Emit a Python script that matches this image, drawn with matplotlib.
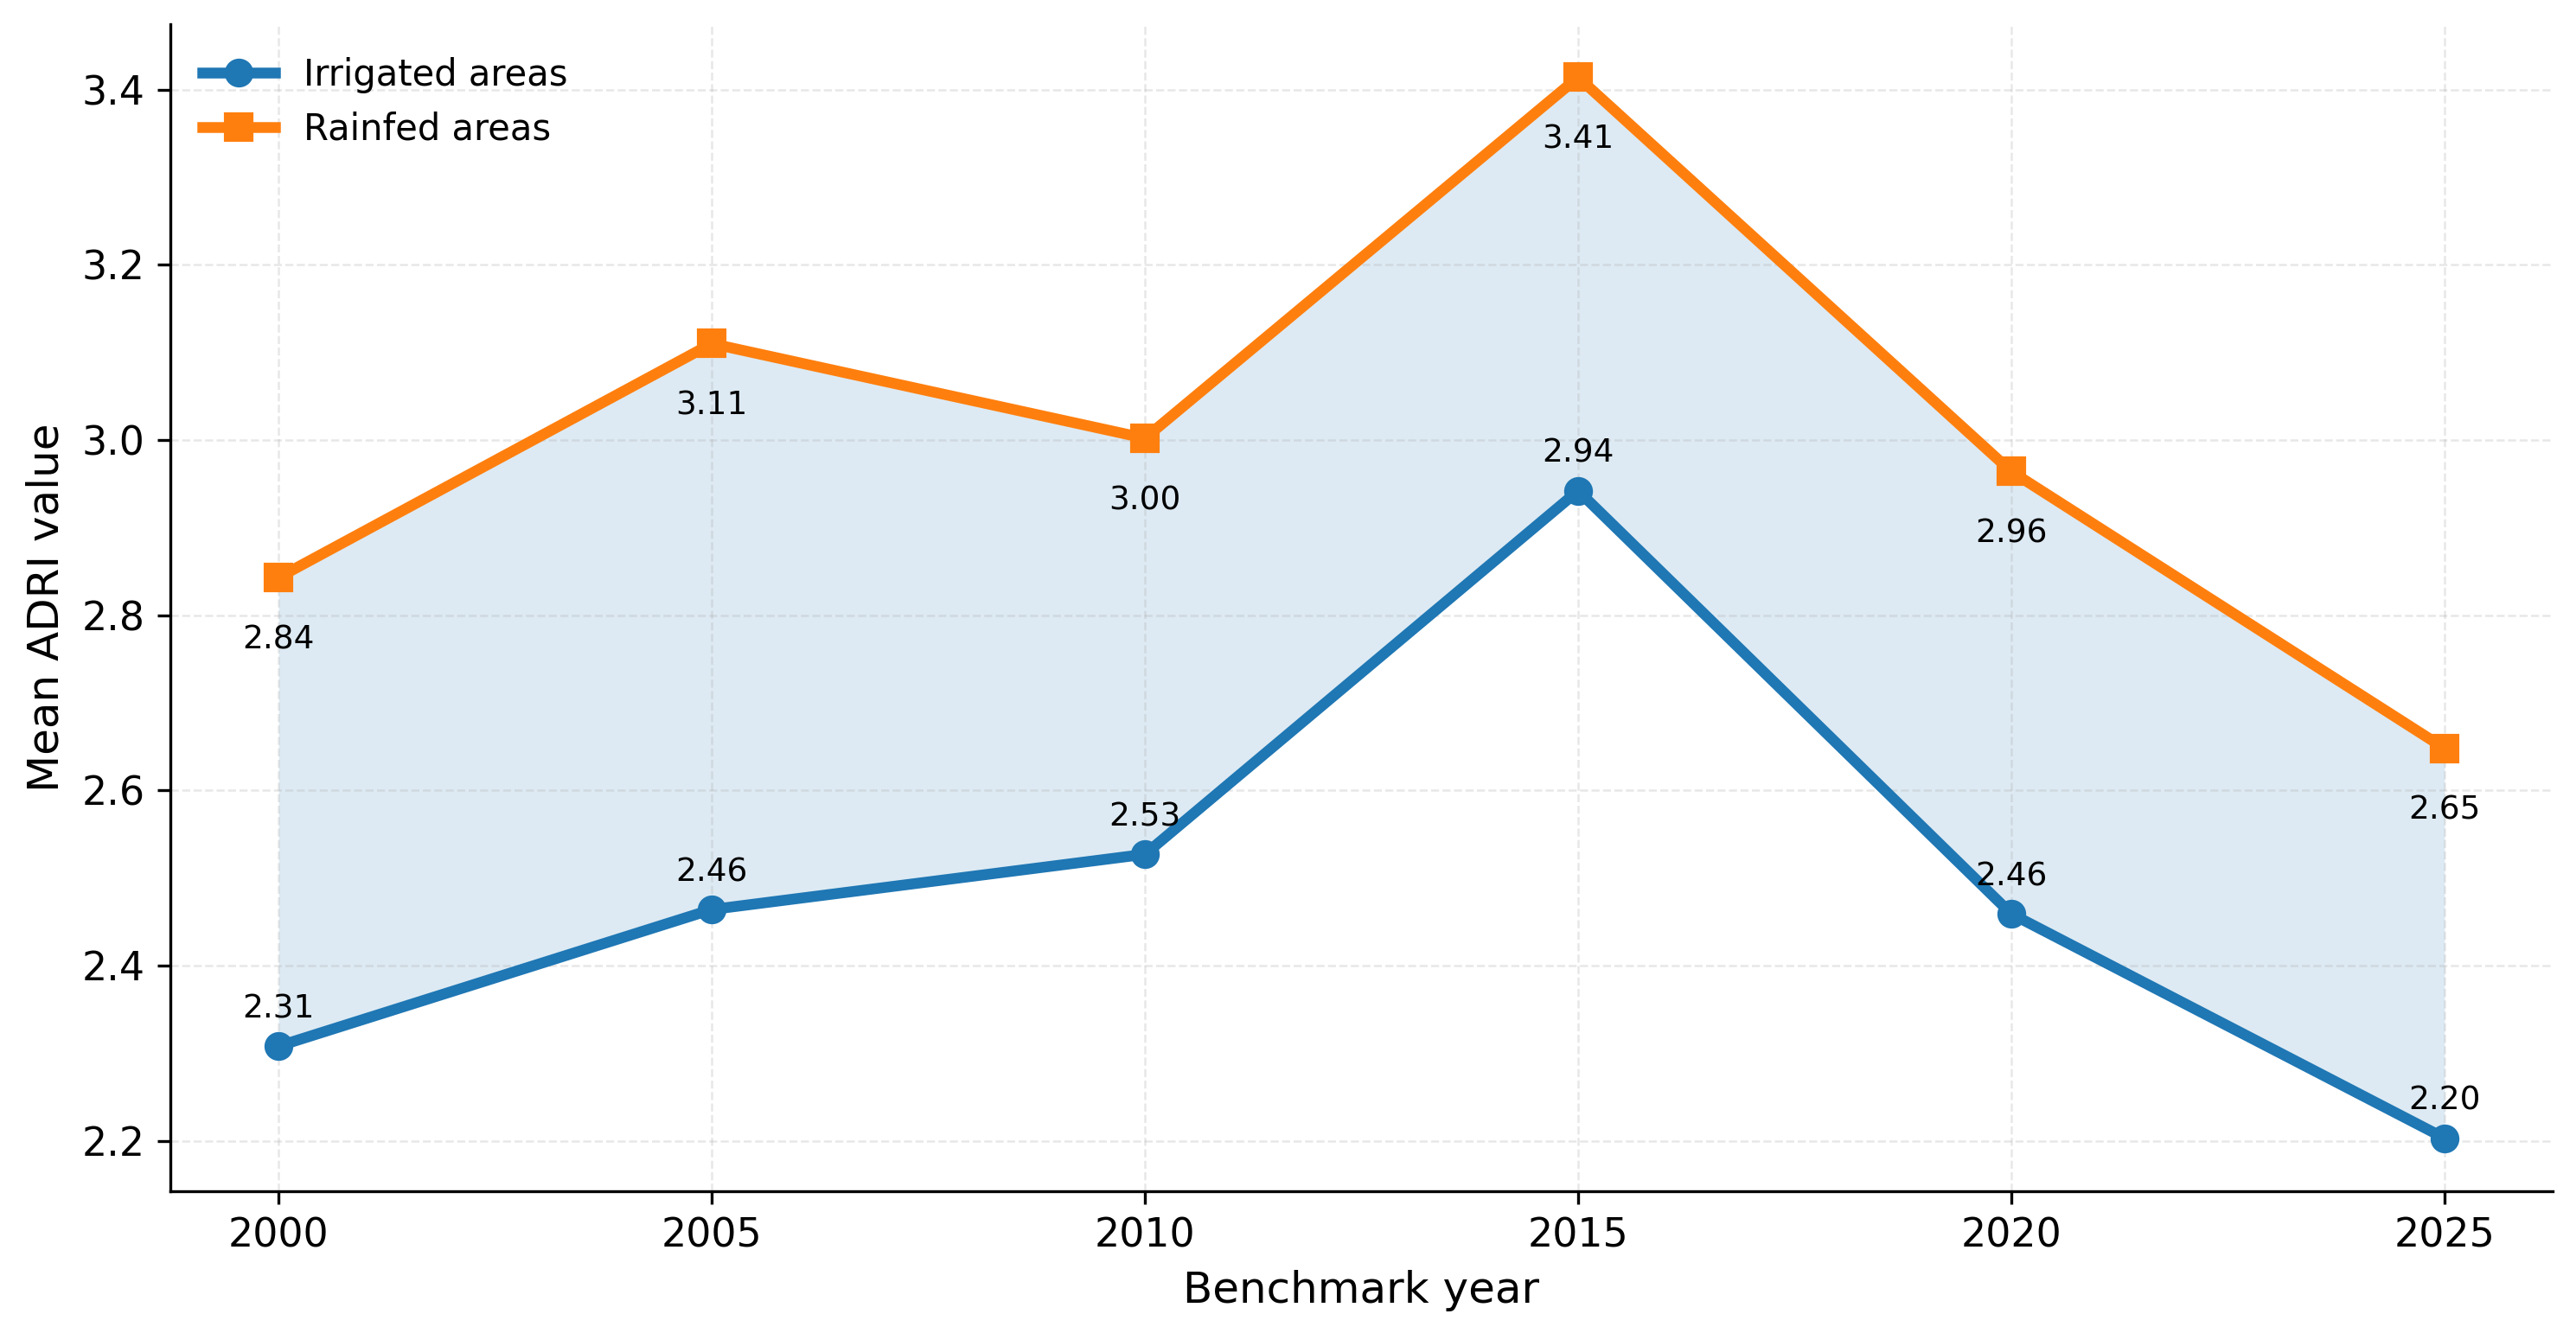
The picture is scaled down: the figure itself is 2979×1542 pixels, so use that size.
import matplotlib.pyplot as plt

# Mean ADRI per benchmark year
years = [2000, 2005, 2010, 2015, 2020, 2025]
irrigated = [2.308, 2.464, 2.527, 2.942, 2.459, 2.203]
rainfed = [2.843, 3.110, 3.002, 3.414, 2.964, 2.648]

fig = plt.figure(figsize=(9.93, 5.14), dpi=300)
ax = fig.add_axes([0.0661, 0.1064, 0.9249, 0.8754])

ax.fill_between(years, irrigated, rainfed, color='C0', alpha=0.15, linewidth=0)
ax.plot(years, irrigated, marker='o', color='C0', linewidth=3, markersize=7,
        label='Irrigated areas')
ax.plot(years, rainfed, marker='s', color='C1', linewidth=3, markersize=7,
        label='Rainfed areas')

# value labels: irrigated above, rainfed below
for x, y in zip(years, irrigated):
    ax.annotate(f'{y:.2f}', (x, y), xytext=(0, 6), textcoords='offset points',
                ha='center', va='bottom', fontsize=9)
for x, y in zip(years, rainfed):
    ax.annotate(f'{y:.2f}', (x, y), xytext=(0, -13), textcoords='offset points',
                ha='center', va='top', fontsize=9)

ax.set_xticks(years)
ax.tick_params(labelsize=11)
ax.set_xlabel('Benchmark year', fontsize=12)
ax.set_ylabel('Mean ADRI value', fontsize=12)
ax.grid(True, linestyle='--', linewidth=0.6, alpha=0.3)
ax.spines['top'].set_visible(False)
ax.spines['right'].set_visible(False)
ax.legend(loc='upper left', frameon=False, fontsize=10)

fig.savefig('out.png', dpi=300)
